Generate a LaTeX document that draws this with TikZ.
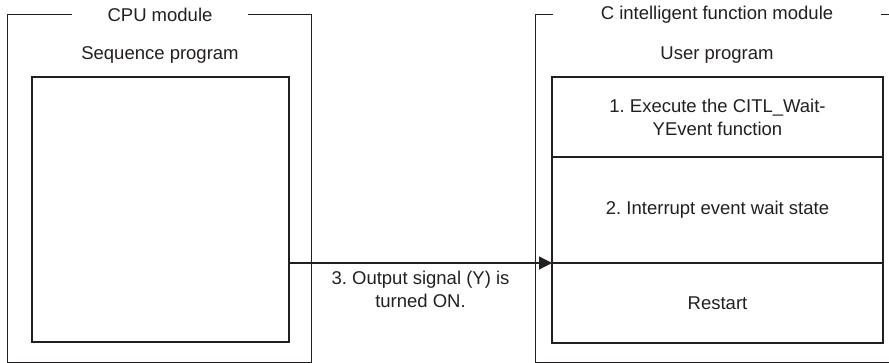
\documentclass[tikz,border=0pt]{standalone}
\usepackage{fontspec}
\setmainfont{Liberation Sans}
\usetikzlibrary{arrows.meta}
\definecolor{ink}{HTML}{231F20}
\frenchspacing
\begin{document}
\begin{tikzpicture}[x=1pt,y=-1pt,line width=1.2pt,draw=ink,text=ink]
	\tikzstyle{every node} = [align=center,font=\fontsize{18.5}{23}\selectfont,inner sep=0pt,outer sep=0pt]
	\tikzstyle{block} = [draw,minimum width=331pt]
	\useasboundingbox (0,0) rectangle (889,363);

	% outer frames
	\draw [line width=1pt] (7,15) rectangle (311,362.5);
	\draw [line width=1pt] (535,362.5) -- (535,15) -- (900,15) (535,362.5) -- (900,362.5);
	\node (cpu) [fill=white,inner xsep=36pt,inner ysep=4pt] at (160,15) {CPU module};
	\node (cifm) [fill=white,inner xsep=48pt,inner ysep=4pt] at (717,15) {C intelligent function module};
	\node (seqtitle) at (160,55) {Sequence program};
	\node (usertitle) at (717,55) {User program};

	% programs
	\node (seq) [draw,minimum width=257pt,minimum height=265pt] at (160.5,209.5) {};
	\node (exec) [block,minimum height=80pt] at (717.5,117) {1. Execute the CITL\_Wait-\\YEvent function};
	\node (wait) [block,minimum height=106pt] at (717.5,210) {2. Interrupt event wait state};
	\node (restart) [block,minimum height=80pt] at (717.5,303) {Restart};

	\draw [-{Triangle[length=13pt,width=13pt]}] (seq.east |- restart.north west) -- (restart.north west)
	node (ylabel) [pos=0.5,below=8pt] {3. Output signal (Y) is\\turned ON.};
\end{tikzpicture}
\end{document}
